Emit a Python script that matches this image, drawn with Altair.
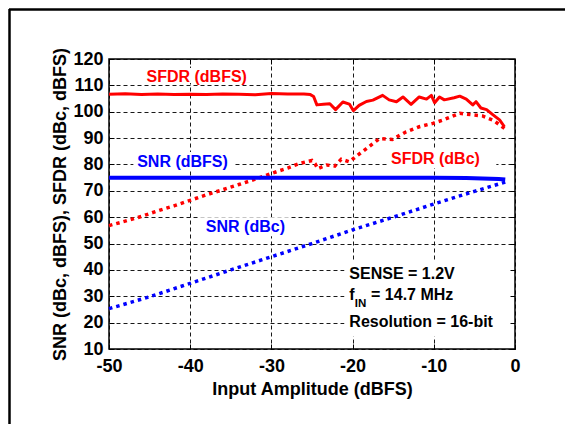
import altair as alt
import pandas as pd

# ---------------- data ----------------
sfdr_dbfs_x = [-50, -48, -46, -44, -42, -40, -38, -36, -34, -32, -30, -28, -26, -25.2, -24.8,
               -24.4, -23.6, -22.8, -22.1, -21.2, -20.4, -19.9, -19.2, -18.3, -17.5, -16.3,
               -15.5, -14.6, -13.8, -12.8, -11.8, -10.9, -10.3, -9.9, -9.3, -8.7, -7.5, -6.8,
               -6.0, -5.2, -4.8, -4.2, -3.5, -2.7, -1.9, -1.3]
sfdr_dbfs_y = [106.6, 106.8, 106.5, 106.7, 106.5, 106.6, 106.5, 106.7, 106.6, 106.4, 106.9, 106.7,
               106.7, 106.5, 105.8, 102.6, 102.8, 103.0, 100.8, 103.7, 102.9, 100.4, 102.4, 103.9,
               104.4, 106.2, 104.5, 103.8, 105.6, 102.8, 105.6, 104.8, 106.2, 103.4, 105.6, 104.5,
               105.3, 105.9, 104.8, 102.6, 103.8, 101.4, 100.8, 98.8, 96.9, 94.3]

sfdr_dbc_x = [-50, -48, -46, -44, -42, -40, -38, -36, -34, -32, -30, -28, -26.5, -25, -24.6,
              -24.3, -23.2, -22.2, -21.4, -20.4, -19.6, -18.3, -16.7, -15.1, -13.4, -11.8,
              -10.1, -8.9, -6.8, -5.2, -4.0, -2.7, -1.3]
sfdr_dbc_y = [56.8, 58.5, 60.3, 62.4, 64.3, 66.4, 68.5, 70.4, 72.4, 74.4, 76.6, 78.6, 80.4, 81.5,
              80.2, 78.4, 79.8, 79.4, 82.0, 81.0, 83.0, 86.0, 89.8, 89.5, 92.4, 94.3, 95.6, 96.8,
              99.4, 98.8, 98.4, 96.8, 93.7]

snr_dbfs_x = [-50, -40, -30, -20, -10, -6, -4, -2, -1.2]
snr_dbfs_y = [75.0, 75.0, 75.0, 75.0, 75.0, 74.9, 74.7, 74.5, 74.3]

snr_dbc_x = [-50, -45, -40, -35, -30, -25, -20, -15, -10, -5, -1.2]
snr_dbc_y = [25.3, 29.8, 34.9, 40.0, 45.0, 50.0, 55.2, 60.0, 65.0, 69.8, 73.3]

x_ticks = [-50, -40, -30, -20, -10, 0]
y_ticks = [10, 20, 30, 40, 50, 60, 70, 80, 90, 100, 110, 120]

FONT = "Liberation Sans"
RED = "#ff0000"
BLUE = "#0000ff"

xs = alt.Scale(domain=[-50, 0], nice=False, zero=False)
ys = alt.Scale(domain=[10, 120], nice=False, zero=False)


def df(xv, yv):
    return pd.DataFrame({"x": xv, "y": yv})


main_x_axis = alt.Axis(orient="bottom", values=x_ticks, labelExpr="'' + datum.value", grid=True,
                       gridDash=[4, 3], gridColor="black", gridWidth=1, gridOpacity=0.9,
                       domain=False, ticks=False, tickSize=0, labelFont=FONT, labelFontSize=18,
                       labelFontWeight="bold", labelColor="black", labelPadding=8,
                       labelFlush=False, labelOverlap=False,
                       title="Input Amplitude (dBFS)", titleFont=FONT, titleFontSize=18,
                       titleFontWeight="bold", titleColor="black", titleX=203, titleY=45,
                       titleAlign="center", titleBaseline="alphabetic", zindex=0)
main_y_axis = alt.Axis(orient="left", values=y_ticks, labelExpr="'' + datum.value", grid=True,
                       gridDash=[4, 3], gridColor="black", gridWidth=1, gridOpacity=0.9,
                       domain=False, ticks=False, tickSize=0, labelFont=FONT, labelFontSize=18,
                       labelFontWeight="bold", labelColor="black", labelPadding=6,
                       labelOverlap=False,
                       title="SNR (dBc, dBFS), SFDR (dBc, dBFS)", titleFont=FONT, titleFontSize=18,
                       titleFontWeight="bold", titleColor="black", titleAngle=270, titleX=-44,
                       titleY=145, titleAlign="center", titleBaseline="alphabetic", zindex=0)


def tick_axis(orient, vals):
    return alt.Axis(orient=orient, values=vals, grid=False, labels=False, domain=False, ticks=True,
                    tickSize=5, tickWidth=1, tickColor="black", offset=-5, title="", zindex=2)


# series lines
sfdr_dbfs_line = alt.Chart(df(sfdr_dbfs_x, sfdr_dbfs_y)).mark_line(
    color=RED, strokeWidth=3, strokeJoin="round").encode(
    x=alt.X("x:Q", scale=xs, axis=main_x_axis),
    y=alt.Y("y:Q", scale=ys, axis=main_y_axis))

sfdr_dbc_line = alt.Chart(df(sfdr_dbc_x, sfdr_dbc_y)).mark_line(
    color=RED, strokeWidth=3.5, strokeDash=[3.5, 4]).encode(
    x=alt.X("x:Q", scale=xs, axis=tick_axis("top", x_ticks)),
    y=alt.Y("y:Q", scale=ys, axis=tick_axis("right", y_ticks)))

snr_dbfs_line = alt.Chart(df(snr_dbfs_x, snr_dbfs_y)).mark_line(
    color=BLUE, strokeWidth=4).encode(
    x=alt.X("x:Q", scale=xs, axis=tick_axis("bottom", x_ticks)),
    y=alt.Y("y:Q", scale=ys, axis=tick_axis("left", y_ticks)))

snr_dbc_line = alt.Chart(df(snr_dbc_x, snr_dbc_y)).mark_line(
    color=BLUE, strokeWidth=3.5, strokeDash=[3.5, 4]).encode(
    x=alt.X("x:Q", scale=xs, axis=None),
    y=alt.Y("y:Q", scale=ys, axis=None))


def box(x1, x2, y1, y2):
    return alt.Chart().mark_rect(color="white").encode(
        x=alt.X(datum=x1, scale=xs, axis=None), x2=alt.X2(datum=x2),
        y=alt.Y(datum=y1, scale=ys, axis=None), y2=alt.Y2(datum=y2))


def label(txt, x, y, color, align="center", size=16, dx=0, dy=0):
    return alt.Chart().mark_text(text=txt, font=FONT, fontSize=size, fontWeight="bold",
                                 color=color, align=align, baseline="alphabetic",
                                 dx=dx, dy=dy).encode(
        x=alt.X(datum=x, scale=xs, axis=None),
        y=alt.Y(datum=y, scale=ys, axis=None))


boxes = [
    box(-46.0, -32.4, 110.9, 116.6),
    box(-47.0, -34.7, 77.5, 84.7),
    box(-15.7, -2.3, 78.7, 85.9),
    box(-38.8, -27.6, 52.8, 60.0),
    box(-21.0, -0.2, 14.7, 43.0),
]

labels = [
    label("SFDR (dBFS)", -39.2, 111.1, RED),
    label("SNR (dBFS)", -40.95, 78.9, BLUE),
    label("SFDR (dBc)", -9.8, 80.2, RED),
    label("SNR (dBc)", -33.2, 54.2, BLUE),
    label("SENSE = 1.2V", -20.4, 36.5, "black", align="left"),
    label("f", -20.4, 28.7, "black", align="left"),
    label("IN", -20.4, 28.7, "black", align="left", size=11.5, dx=5.5, dy=7),
    label("= 14.7 MHz", -20.4, 28.7, "black", align="left", dx=21.7),
    label("Resolution = 16-bit", -20.4, 18.2, "black", align="left"),
]

# outer figure frame (top and left edges)
frame_top = alt.Chart().mark_rule(color="black", strokeWidth=2.5).encode(
    x=alt.value(-100), x2=alt.value(456), y=alt.value(-49.5))
frame_left = alt.Chart().mark_rule(color="black", strokeWidth=2.5).encode(
    x=alt.value(-99.5), y=alt.value(-50), y2=alt.value(365))

chart = alt.layer(
    sfdr_dbfs_line, sfdr_dbc_line, snr_dbfs_line, *boxes, snr_dbc_line,
    *labels, frame_top, frame_left
).resolve_axis(x="independent", y="independent").properties(
    width=406, height=290,
    autosize=alt.AutoSizeParams(type="none"),
    padding={"left": 101, "top": 51, "right": 50, "bottom": 75},
    background="white",
).configure_view(stroke="black", strokeWidth=1.5)

chart.save("out.html", embed_options={"renderer": "svg", "actions": False})
